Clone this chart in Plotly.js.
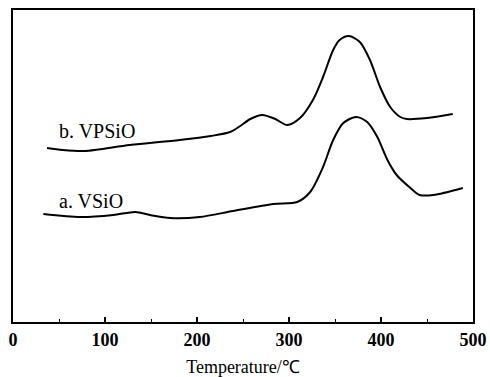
<!DOCTYPE html>
<html>
<head>
<meta charset="utf-8">
<script src="https://cdn.plot.ly/plotly-3.0.1.min.js"></script>
<style>html,body{margin:0;padding:0;background:#fff;}#chart{width:490px;height:377px;}</style>
</head>
<body>
<div id="chart"></div>
<script>
// Temperature (°C) and signal (arbitrary units)
const tempB = [37, 54, 78, 127, 181, 215, 236, 247, 258, 271, 285, 298, 312, 326, 337, 348, 355, 365, 377, 388, 399, 410, 421, 428, 450, 478];
const sigB  = [174, 172, 171, 177, 182, 186, 190, 196, 203, 207, 203, 197, 204, 222, 245, 272, 282, 286, 280, 262, 235, 215, 205, 203, 204, 208];
const tempA = [33, 73, 109, 133, 149, 171, 203, 239, 283, 309, 323, 337, 348, 359, 373, 385, 396, 407, 417, 432, 442, 457, 489];
const sigA  = [108, 105, 107, 110, 107, 104, 105, 111, 118, 120, 130, 155, 182, 199, 205, 200, 185, 162, 147, 134, 127, 127, 134];
const labelB = "b. VPSiO";
const labelA = "a. VSiO";
const xTicks = [0, 100, 200, 300, 400, 500];

const lineStyle = {color: "#000", width: 2, shape: "spline", smoothing: 0.8};
const data = [
  {x: tempB, y: sigB, type: "scatter", mode: "lines", line: lineStyle, name: labelB},
  {x: tempA, y: sigA, type: "scatter", mode: "lines", line: lineStyle, name: labelA}
];
const serif = "'Liberation Serif', 'Times New Roman', Times, serif";
const layout = {
  width: 490, height: 377,
  margin: {l: 13, r: 17, t: 10, b: 55},
  paper_bgcolor: "#fff", plot_bgcolor: "#fff",
  showlegend: false,
  font: {family: serif, color: "#000"},
  xaxis: {
    range: [0, 500],
    tickvals: xTicks, ticktext: xTicks.map(String),
    ticks: "inside", ticklen: 5, tickwidth: 1.5, tickcolor: "#000",
    minor: {dtick: 50, ticks: "inside", ticklen: 3, tickwidth: 1, tickcolor: "#000"},
    showline: true, linecolor: "#000", linewidth: 2, mirror: true,
    showgrid: false, zeroline: false,
    tickfont: {family: serif, size: 18, color: "#000", weight: "bold"},
    title: {text: "Temperature/℃", font: {family: serif, size: 18, color: "#000"}, standoff: 13}
  },
  yaxis: {
    range: [0, 312],
    showticklabels: false, ticks: "",
    showline: true, linecolor: "#000", linewidth: 2, mirror: true,
    showgrid: false, zeroline: false
  },
  annotations: [
    {x: 48, y: 191, xref: "x", yref: "y", text: labelB, showarrow: false, xanchor: "left", yanchor: "middle",
     font: {family: serif, size: 20, color: "#000"}},
    {x: 48, y: 121, xref: "x", yref: "y", text: labelA, showarrow: false, xanchor: "left", yanchor: "middle",
     font: {family: serif, size: 20, color: "#000"}}
  ]
};
Plotly.newPlot("chart", data, layout, {displayModeBar: false, staticPlot: true});
</script>
</body>
</html>
